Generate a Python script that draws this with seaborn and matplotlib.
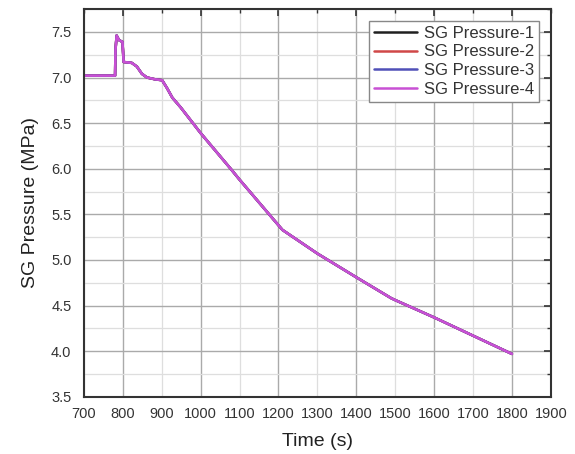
import numpy as np
import pandas as pd
import matplotlib
matplotlib.use("Agg")
import matplotlib.pyplot as plt
import seaborn as sns
from matplotlib.ticker import MultipleLocator, FormatStrFormatter

# ---- data ----
time_s = [700, 780, 781, 784, 790, 799, 802, 823, 836, 849, 862, 883, 901,
          914, 927, 949, 1000, 1077, 1100, 1154, 1200, 1210, 1300, 1400,
          1490, 1500, 1600, 1700, 1800]
sg_pressure_1 = [7.02, 7.02, 7.30, 7.46, 7.41, 7.39, 7.17, 7.16, 7.12, 7.04,
                 7.00, 6.98, 6.97, 6.88, 6.78, 6.67, 6.39, 6.00, 5.88, 5.61,
                 5.38, 5.33, 5.07, 4.81, 4.58, 4.56, 4.37, 4.17, 3.97]
sg_pressure_2 = [7.02, 7.02, 7.30, 7.46, 7.41, 7.39, 7.17, 7.16, 7.12, 7.04,
                 7.00, 6.98, 6.97, 6.88, 6.78, 6.67, 6.39, 6.00, 5.88, 5.61,
                 5.38, 5.33, 5.07, 4.81, 4.58, 4.56, 4.37, 4.17, 3.97]
sg_pressure_3 = [7.02, 7.02, 7.30, 7.46, 7.41, 7.39, 7.17, 7.16, 7.12, 7.04,
                 7.00, 6.98, 6.97, 6.88, 6.78, 6.67, 6.39, 6.00, 5.88, 5.61,
                 5.38, 5.33, 5.07, 4.81, 4.58, 4.56, 4.37, 4.17, 3.97]
sg_pressure_4 = [7.02, 7.02, 7.30, 7.46, 7.41, 7.39, 7.17, 7.16, 7.12, 7.04,
                 7.00, 6.98, 6.97, 6.88, 6.78, 6.67, 6.39, 6.00, 5.88, 5.61,
                 5.38, 5.33, 5.07, 4.81, 4.58, 4.56, 4.37, 4.17, 3.97]
series_names = ["SG Pressure-1", "SG Pressure-2", "SG Pressure-3", "SG Pressure-4"]
series_colors = ["#202020", "#d04848", "#5050b8", "#c850d4"]

frames = []
for name, vals in zip(series_names,
                      [sg_pressure_1, sg_pressure_2, sg_pressure_3, sg_pressure_4]):
    frames.append(pd.DataFrame({"Time": time_s, "Pressure": vals, "Series": name}))
df = pd.concat(frames, ignore_index=True)

sns.set_theme(style="white")
plt.rcParams["font.family"] = ["Liberation Sans", "DejaVu Sans"]

fig = plt.figure(figsize=(5.75, 4.54), dpi=100)
ax = fig.add_axes([0.146, 0.126, 0.812, 0.854])

sns.lineplot(data=df, x="Time", y="Pressure", hue="Series",
             palette=dict(zip(series_names, series_colors)),
             linewidth=1.8, ax=ax, sort=False, estimator=None)

ax.set_xlim(700, 1900)
ax.set_ylim(3.5, 7.75)

ax.xaxis.set_major_locator(MultipleLocator(200))
ax.xaxis.set_minor_locator(MultipleLocator(100))
ax.xaxis.set_major_formatter(FormatStrFormatter("%d"))
ax.xaxis.set_minor_formatter(FormatStrFormatter("%d"))
ax.yaxis.set_major_locator(MultipleLocator(0.5))
ax.yaxis.set_minor_locator(MultipleLocator(0.25))
ax.yaxis.set_major_formatter(FormatStrFormatter("%.1f"))

ax.grid(which="major", color="#aaaaaa", linewidth=1.0)
ax.grid(which="minor", color="#dedede", linewidth=0.9)
ax.set_axisbelow(True)

ax.tick_params(which="both", direction="in", top=True, right=True,
               colors="#333333", labelcolor="#333333")
ax.tick_params(which="major", length=5, width=1.2, labelsize=10.5)
ax.tick_params(which="minor", length=3, width=1.0, labelsize=10.5)
ax.tick_params(axis="x", which="both", pad=7)
ax.tick_params(axis="y", which="both", pad=9)
for s in ax.spines.values():
    s.set_color("#333333")
    s.set_linewidth(1.5)
    s.set_visible(True)

ax.set_xlabel("Time (s)", fontsize=14, color="#222222", labelpad=9)
ax.set_ylabel("SG Pressure (MPa)", fontsize=14, color="#222222", labelpad=9)

leg = ax.legend(loc="upper right", fontsize=12, frameon=True, fancybox=False,
                framealpha=1, edgecolor="#888888", handlelength=2.6,
                borderpad=0.3, labelspacing=0.22, handletextpad=0.4,
                borderaxespad=0.7)
leg.get_frame().set_linewidth(1.0)
for t in leg.get_texts():
    t.set_color("#333333")

fig.savefig("out.png", dpi=100)
